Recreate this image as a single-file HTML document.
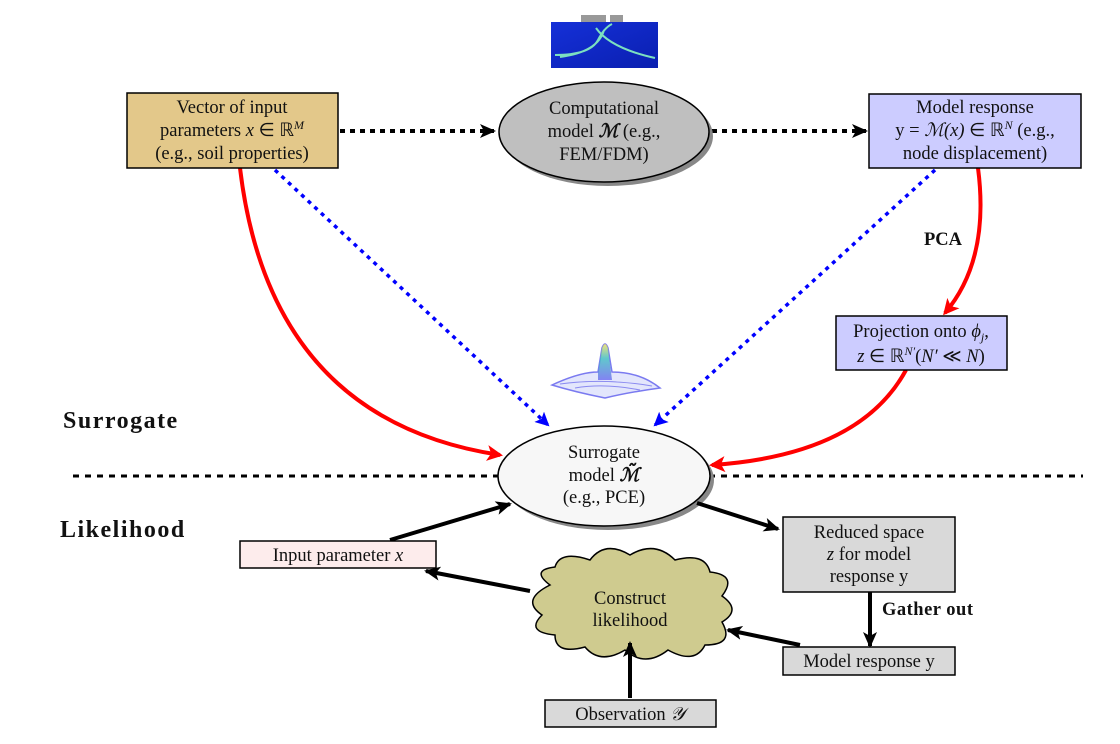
<!DOCTYPE html>
<html><head><meta charset="utf-8"><style>
body{margin:0;background:#fff}
svg text{font-family:"Liberation Serif",serif;font-size:18.5px;fill:#111}
</style></head><body>
<svg width="1120" height="739" viewBox="0 0 1120 739" xmlns="http://www.w3.org/2000/svg">
<defs>
<marker id="ak" markerWidth="16" markerHeight="14" refX="14" refY="7" orient="auto" markerUnits="userSpaceOnUse"><path d="M0,0 L16,7 L0,14 L4,7z" fill="#000"/></marker>
<marker id="ab" markerWidth="14" markerHeight="14" refX="12" refY="7" orient="auto" markerUnits="userSpaceOnUse"><path d="M0,0 L14,7 L0,14 L3,7z" fill="#00f"/></marker>
<marker id="ar" markerWidth="16" markerHeight="16" refX="13" refY="8" orient="auto" markerUnits="userSpaceOnUse"><path d="M0,0 L16,8 L0,16 L4,8z" fill="#f00"/></marker>
<linearGradient id="fem" x1="0" y1="0" x2="1" y2="1"><stop offset="0" stop-color="#1530d8"/><stop offset="1" stop-color="#0a1fb0"/></linearGradient>
<linearGradient id="sg" x1="0" y1="0" x2="0" y2="1"><stop offset="0" stop-color="#f0e060"/><stop offset="0.4" stop-color="#40c0c0"/><stop offset="1" stop-color="#6a6af0"/></linearGradient>
</defs>
<rect x="581" y="15" width="25" height="8" fill="#999"/><rect x="610" y="15" width="13" height="8" fill="#999"/>
<rect x="551" y="22" width="107" height="46" fill="url(#fem)"/>
<path d="M555,55 Q590,55 598,40 Q604,28 612,24 M560,57 Q598,52 604,30 M596,28 Q610,48 655,58" stroke="#7ce0c0" stroke-width="2" fill="none"/>
<path d="M552,385 Q580,372 598,372 L602,348 Q605,340 608,348 L612,372 Q640,372 660,388 Q630,392 605,398 Q575,392 552,385z" fill="#b8c0f8" fill-opacity="0.4" stroke="#7a7af0" stroke-width="1.5"/>
<path d="M598,372 L602,348 Q605,340 608,348 L612,380 L598,380z" fill="url(#sg)" opacity="0.8"/>
<path d="M560,384 Q605,378 652,386 M575,388 Q605,383 640,390" stroke="#8a8af0" fill="none"/>
<line x1="73" y1="476" x2="1083" y2="476" stroke="#000" stroke-width="3" stroke-dasharray="6,6"/>
<text x="63" y="428" style="font-size:24px;font-weight:bold;letter-spacing:1.5px">Surrogate</text>
<text x="60" y="537" style="font-size:24px;font-weight:bold;letter-spacing:1.5px">Likelihood</text>
<line x1="340" y1="131" x2="494" y2="131" stroke="#000" stroke-width="4" stroke-dasharray="5,5" marker-end="url(#ak)"/>
<line x1="712" y1="131" x2="866" y2="131" stroke="#000" stroke-width="4" stroke-dasharray="5,5" marker-end="url(#ak)"/>
<line x1="275" y1="170" x2="548" y2="425" stroke="#00f" stroke-width="3.5" stroke-dasharray="4,5" marker-end="url(#ab)"/>
<line x1="935" y1="170" x2="655" y2="425" stroke="#00f" stroke-width="3.5" stroke-dasharray="4,5" marker-end="url(#ab)"/>
<path d="M240,168 Q270,420 500,455" stroke="#f00" stroke-width="4" fill="none" marker-end="url(#ar)"/>
<path d="M978,168 Q990,260 945,313" stroke="#f00" stroke-width="4" fill="none" marker-end="url(#ar)"/>
<text x="924" y="245" style="font-weight:bold">PCA</text>
<path d="M906,370 Q860,455 712,465" stroke="#f00" stroke-width="4" fill="none" marker-end="url(#ar)"/>
<rect x="127" y="93" width="211" height="75" fill="#e3c88a" stroke="#000" stroke-width="1.5"/>
<text x="232" y="113" text-anchor="middle">Vector of input</text>
<text x="232" y="136" text-anchor="middle">parameters <tspan font-style="italic">x</tspan> ∈ ℝ<tspan font-style="italic" font-size="12" dy="-7">M</tspan></text>
<text x="232" y="159" text-anchor="middle">(e.g., soil properties)</text>
<ellipse cx="608" cy="136" rx="105" ry="50" fill="#888"/>
<ellipse cx="604" cy="132" rx="105" ry="50" fill="#bfbfbf" stroke="#000" stroke-width="1.5"/>
<text x="604" y="114" text-anchor="middle">Computational</text>
<text x="604" y="137" text-anchor="middle">model <tspan font-weight="bold" font-style="italic">ℳ</tspan> (e.g.,</text>
<text x="604" y="160" text-anchor="middle">FEM/FDM)</text>
<rect x="869" y="94" width="212" height="74" fill="#ccccff" stroke="#000" stroke-width="1.5"/>
<text x="975" y="113" text-anchor="middle">Model response</text>
<text x="975" y="136" text-anchor="middle">y = <tspan font-style="italic">ℳ(x)</tspan> ∈ ℝ<tspan font-style="italic" font-size="12" dy="-7">N</tspan><tspan dy="7"> (e.g.,</tspan></text>
<text x="975" y="159" text-anchor="middle">node displacement)</text>
<rect x="836" y="316" width="171" height="54" fill="#ccccff" stroke="#000" stroke-width="1.5"/>
<text x="921" y="337" text-anchor="middle">Projection onto <tspan font-style="italic">ϕ</tspan><tspan font-style="italic" font-size="12" dy="4">j</tspan><tspan dy="-4">,</tspan></text>
<text x="921" y="362" text-anchor="middle"><tspan font-style="italic">z</tspan> ∈ ℝ<tspan font-style="italic" font-size="12" dy="-7">N′</tspan><tspan dy="7">(</tspan><tspan font-style="italic">N′</tspan> ≪ <tspan font-style="italic">N</tspan>)</text>
<ellipse cx="608" cy="480" rx="106" ry="50" fill="#888"/>
<ellipse cx="604" cy="476" rx="106" ry="50" fill="#f7f7f7" stroke="#000" stroke-width="1.5"/>
<text x="604" y="458" text-anchor="middle">Surrogate</text>
<text x="604" y="481" text-anchor="middle">model <tspan font-weight="bold" font-style="italic">ℳ̃</tspan></text>
<text x="604" y="503" text-anchor="middle">(e.g., PCE)</text>
<path d="M550,585 Q530,570 555,567 Q560,550 590,560 Q605,540 630,555 Q655,540 675,560 Q705,552 710,572 Q738,575 722,596 Q742,610 722,622 Q735,645 705,645 Q695,665 668,650 Q645,668 625,650 Q600,665 585,647 Q555,655 555,635 Q525,632 542,615 Q520,600 550,585z" fill="#cfcb8f" stroke="#000" stroke-width="1.5"/>
<text x="630" y="604" text-anchor="middle">Construct</text>
<text x="630" y="626" text-anchor="middle">likelihood</text>
<line x1="390" y1="540" x2="510" y2="504" stroke="#000" stroke-width="4" marker-end="url(#ak)"/>
<line x1="697" y1="503" x2="778" y2="529" stroke="#000" stroke-width="4" marker-end="url(#ak)"/>
<line x1="530" y1="591" x2="426" y2="571" stroke="#000" stroke-width="4" marker-end="url(#ak)"/>
<line x1="800" y1="645" x2="728" y2="630" stroke="#000" stroke-width="4" marker-end="url(#ak)"/>
<line x1="870" y1="592" x2="870" y2="646" stroke="#000" stroke-width="4" marker-end="url(#ak)"/>
<line x1="630" y1="698" x2="630" y2="643" stroke="#000" stroke-width="4" marker-end="url(#ak)"/>
<text x="882" y="615" style="font-weight:bold;letter-spacing:0.5px">Gather out</text>
<rect x="240" y="541" width="196" height="27" fill="#fdecec" stroke="#000" stroke-width="1.5"/>
<text x="338" y="561" text-anchor="middle">Input parameter <tspan font-style="italic">x</tspan></text>
<rect x="783" y="517" width="172" height="75" fill="#d9d9d9" stroke="#000" stroke-width="1.5"/>
<text x="869" y="538" text-anchor="middle">Reduced space</text>
<text x="869" y="560" text-anchor="middle"><tspan font-style="italic">z</tspan> for model</text>
<text x="869" y="582" text-anchor="middle">response y</text>
<rect x="783" y="647" width="172" height="28" fill="#d9d9d9" stroke="#000" stroke-width="1.5"/>
<text x="869" y="667" text-anchor="middle">Model response y</text>
<rect x="545" y="700" width="171" height="27" fill="#d9d9d9" stroke="#000" stroke-width="1.5"/>
<text x="630" y="720" text-anchor="middle">Observation <tspan font-style="italic">𝒴</tspan></text>
</svg>
</body></html>
